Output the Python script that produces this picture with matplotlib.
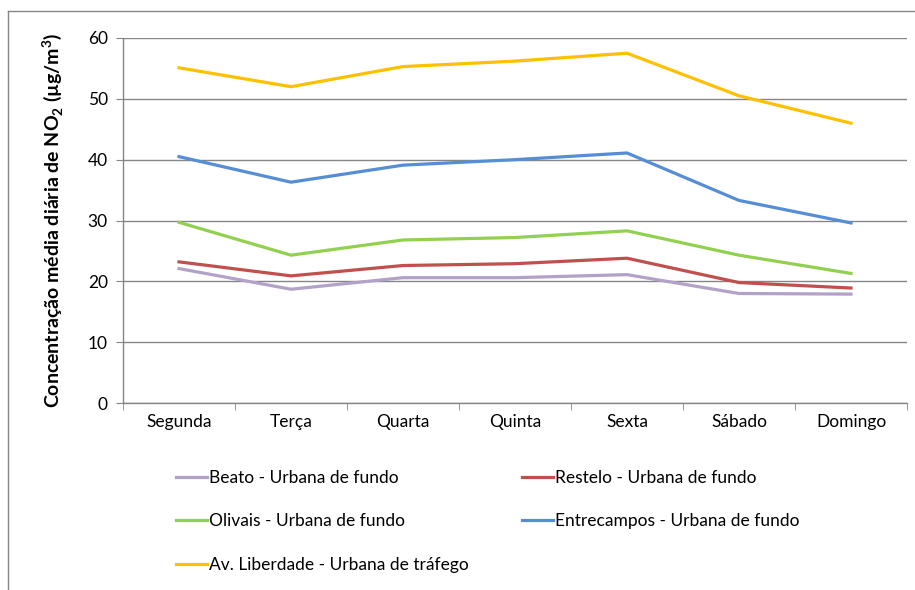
import matplotlib.pyplot as plt
from matplotlib.lines import Line2D

plt.rcParams["font.family"] = ["Lato", "DejaVu Sans"]
plt.rcParams["mathtext.fontset"] = "custom"
plt.rcParams["mathtext.rm"] = "Lato"
plt.rcParams["mathtext.bf"] = "Lato:bold"

DAYS = ["Segunda", "Terça", "Quarta", "Quinta", "Sexta", "Sábado", "Domingo"]

beato = [22.1, 18.7, 20.6, 20.6, 21.1, 18.0, 17.9]
restelo = [23.2, 20.9, 22.6, 22.9, 23.8, 19.8, 18.9]
olivais = [29.7, 24.3, 26.8, 27.2, 28.3, 24.3, 21.3]
entrecampos = [40.5, 36.3, 39.1, 40.0, 41.1, 33.3, 29.6]
liberdade = [55.1, 52.0, 55.3, 56.2, 57.5, 50.5, 46.0]

SERIES = [
    ("Beato - Urbana de fundo", beato, "#B3A2C7"),
    ("Restelo - Urbana de fundo", restelo, "#C0504D"),
    ("Olivais - Urbana de fundo", olivais, "#92D050"),
    ("Entrecampos - Urbana de fundo", entrecampos, "#558ED5"),
    ("Av. Liberdade - Urbana de tráfego", liberdade, "#FFC000"),
]

AXIS_GRAY = "#868686"

fig = plt.figure(figsize=(9.15, 5.9), dpi=100)
ax = fig.add_axes([123 / 915, 187 / 590, 784 / 915, 365 / 590])

x = list(range(len(DAYS)))
for label, values, color in SERIES:
    ax.plot(x, values, color=color, linewidth=2.3, label=label,
            solid_joinstyle="miter")

ax.set_xlim(-0.5, len(DAYS) - 0.5)
ax.set_ylim(0, 60)
ax.set_yticks(range(0, 61, 10))
ax.set_xticks(x)
ax.set_xticklabels(DAYS, fontsize=12.5)
ax.set_xticks([i - 0.5 for i in range(len(DAYS) + 1)], minor=True)
ax.tick_params(axis="x", which="major", length=0, pad=8)
ax.tick_params(axis="x", which="minor", length=5, color=AXIS_GRAY, direction="out")
ax.tick_params(axis="y", length=5, color=AXIS_GRAY, labelsize=12.5, pad=6)
ax.yaxis.grid(True, color=AXIS_GRAY, linewidth=1)
ax.set_axisbelow(True)

for side in ["top", "right"]:
    ax.spines[side].set_visible(False)
for side in ["left", "bottom"]:
    ax.spines[side].set_color(AXIS_GRAY)
    ax.spines[side].set_linewidth(1)

ax.set_ylabel(r"Concentração média diária de NO$_\mathbf{2}$ (µg/m$^\mathbf{3}$)",
              fontsize=14, fontweight="bold", labelpad=16)

# legend in two columns under the plot
handles = [Line2D([], [], color=c, linewidth=2.3) for _, _, c in SERIES]
labels = [s[0] for s in SERIES]
order = [0, 2, 4, 1, 3]
leg = fig.legend(
    [handles[i] for i in order],
    [labels[i] for i in order],
    ncol=2,
    loc="upper left",
    bbox_to_anchor=(160 / 915, 1 - 454 / 590),
    frameon=False,
    fontsize=12.5,
    handlelength=1.8,
    handletextpad=0.12,
    columnspacing=3.05,
    labelspacing=1.6,
)

# chart border (cropped at right and bottom)
fig.add_artist(Line2D([8 / 915, 8 / 915], [0, 1 - 11 / 590],
                      transform=fig.transFigure, color=AXIS_GRAY, linewidth=1))
fig.add_artist(Line2D([8 / 915, 1], [1 - 11 / 590, 1 - 11 / 590],
                      transform=fig.transFigure, color=AXIS_GRAY, linewidth=1))

fig.savefig("out.png", dpi=100)
